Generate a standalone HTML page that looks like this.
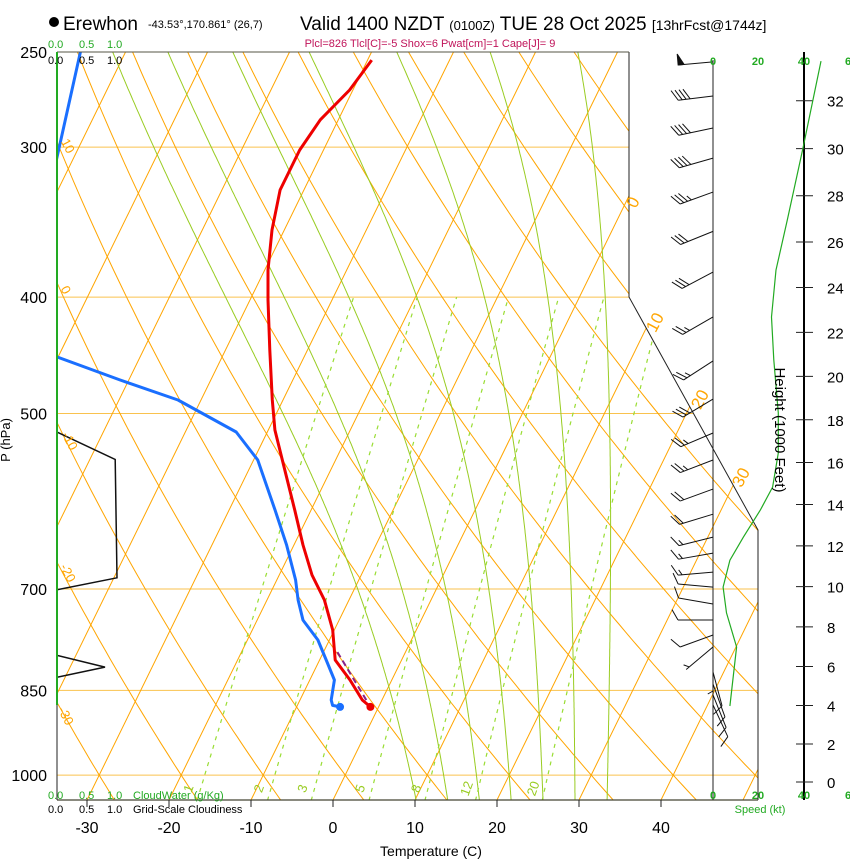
<!DOCTYPE html>
<html><head><meta charset="utf-8">
<style>
html,body{margin:0;padding:0;background:#fff;}
svg{display:block;font-family:"Liberation Sans",sans-serif;}
</style></head>
<body>
<svg id="chart" width="850" height="860" viewBox="0 0 850 860" xmlns="http://www.w3.org/2000/svg">
<defs>
<clipPath id="plotclip"><polygon points="57,52 629,52 629,297 758,530 758,800 57,800"/></clipPath>
</defs>
<g id="bg-lines" clip-path="url(#plotclip)"></g>
<g id="data-lines" clip-path="url(#plotclip)"></g>
<g id="frame">
<polyline points="629,52 629,297 758,530 758,800" fill="none" stroke="#222" stroke-width="1"/>
<line x1="57" y1="52" x2="629" y2="52" stroke="#554" stroke-width="1"/>
<line x1="57" y1="800" x2="758" y2="800" stroke="#443" stroke-width="1.2"/>
<line x1="57" y1="52" x2="57" y2="800" stroke="#222" stroke-width="1"/>
<line x1="57" y1="52" x2="57" y2="705" stroke="#22aa22" stroke-width="2"/>
<line x1="713" y1="60" x2="713" y2="800" stroke="#222" stroke-width="1"/>
<line x1="804" y1="52" x2="804" y2="800" stroke="#000" stroke-width="2"/>
</g>
<g id="labels"></g>
<g id="winds"></g>
</svg>
<script>
// ---- data ----
const tempP = [253.9,268.9,284.7,301.7,325.7,351.7,379.7,402.2,442.7,487.2,516,557.2,601.5,643.3,681.4,714.9,757.2,802,833.3,865.9,877.5];
const tempT = [-39.5,-40.4,-42.2,-42.9,-42.9,-41.5,-39.6,-37.8,-34.6,-31.3,-29.2,-25.6,-22,-18.9,-16,-13,-10.2,-8.1,-5.1,-2.4,-1.0];
const dewP = [250,307,420,448.6,468.8,487.2,518,546.5,601.5,643.3,688,714.9,743,771.9,802,833.3,865.9,875,877.5];
const dewT = [-75.5,-72,-80,-60.1,-51.1,-42.8,-33.8,-29.5,-24.4,-20.9,-17.7,-16.2,-14.4,-11.4,-9.2,-7.0,-6.2,-5.7,-4.7];
const parcelP = [790,877.5];
const parcelT = [-8.3,-1.0];
const cloudP = [518,546,685,701,795,813,829];
const cloudFrac = [0,0.97,1.0,0,0,0.8,0];
const speedP = [254.4,300.5,345.0,379.7,415.5,451.1,499.5,539.3,575.7,601.7,633.7,662.3,697.4,732.8,782.3,827.0,876.0];
const speedKt = [48,40,33,28,26,27,29,29,26.5,21,13.5,7.5,4.5,6,10.5,9,7.5];
const barbP = [254.8,272.0,289.2,306.4,327.0,352.6,381.2,415.5,452.0,486.3,519.0,546.6,577.9,606.4,633.7,653.4,677.6,697.4,720.4,742.8,764.5,782.3,802.0,820.7,839.8,857.6,874.2];
const barbDir = [265,263,258,254,250,248,242,240,237,239,247,249,250,253,256,260,265,275,280,270,250,230,180,165,160,158,155];
const barbKt = [50,40,40,40,35,30,30,25,25,30,25,25,20,20,15,15,15,10,10,10,10,5,5,10,10,10,10];
const pLabels = [250,300,400,500,700,850,1000];
const isobars = [300,400,500,700,850,1000];
const tTicks = [-30,-20,-10,0,10,20,30,40];
const hTicks = [0,2,4,6,8,10,12,14,16,18,20,22,24,26,28,30,32];
const mixW = [1,2,3,5,8,12,20];
const thetaW = [8,12,16,20,24,28,32];

// ---- axes ----
const NS="http://www.w3.org/2000/svg";
function yP(p){return 52+521.6*Math.log(p/250);}
function xTP(T,p){return 333+8.2*T+0.49*(800-yP(p));}
function pStd(hkft){const z=hkft*304.8;return 1013.25*Math.pow(1-2.25577e-5*z,5.2559);}
function yH(h){return yP(pStd(h));}
function xSpd(s){return 713+2.25*s;}
function mk(tag,attrs,parent){const e=document.createElementNS(NS,tag);for(const k in attrs)e.setAttribute(k,attrs[k]);parent.appendChild(e);return e;}
function txt(s,x,y,size,fill,parent,extra){const e=mk('text',Object.assign({x:x,y:y,'font-size':size,fill:fill},extra||{}),parent);e.textContent=s;return e;}
const bg=document.getElementById('bg-lines'), dl=document.getElementById('data-lines'), lb=document.getElementById('labels'), wg=document.getElementById('winds');

// isobars
isobars.forEach(p=>{const l=mk('line',{x1:57,x2:758,y1:yP(p),y2:yP(p),stroke:'#f8b830','stroke-width':1,opacity:0.85},bg);

});
// isotherms
for(let T=-120;T<=50;T+=10){const l=mk('line',{x1:xTP(T,1050),y1:yP(1050),x2:xTP(T,250),y2:yP(250),stroke:'#ffa500','stroke-width':1},bg);

}
// dry adiabats
for(let th=-40;th<=160;th+=10){let pts=[];for(let p=1050;p>=250;p-=10){const T=(th+273.15)*Math.pow(p/1000,0.2857)-273.15;pts.push(xTP(T,p).toFixed(1)+','+yP(p).toFixed(1));}
const l=mk('polyline',{points:pts.join(' '),fill:'none',stroke:'#ffa500','stroke-width':1},bg);

}
// moist adiabats
function es(T){return 6.112*Math.exp(17.67*T/(T+243.5));}
function dTdp(T,p){const Tk=T+273.15,r=0.622*es(T)/(p-es(T));return (287*Tk+2.5e6*r)/(p*(1004+2.5e6*2.5e6*r*0.622/(287*Tk*Tk)));}
thetaW.forEach(tw=>{let up=[],T=tw;
for(let p=1000;p>=250;p-=2){up.push(xTP(T,p).toFixed(1)+','+yP(p).toFixed(1));T-=2*dTdp(T,p);}
let dn=[];T=tw;for(let p=1000;p<=1050;p+=2){dn.push(xTP(T,p).toFixed(1)+','+yP(p).toFixed(1));T+=2*dTdp(T,p);}
const pts=dn.reverse().concat(up);
const l=mk('polyline',{points:pts.join(' '),fill:'none',stroke:'#99cc22','stroke-width':1},bg);

});
// mixing ratio lines
mixW.forEach(w=>{let pts=[];for(let p=1050;p>=400;p-=10){const e=p*w/(622+w),L=Math.log(e/6.112),Td=243.5*L/(17.67-L);pts.push(xTP(Td,p).toFixed(1)+','+yP(p).toFixed(1));}
const l=mk('polyline',{points:pts.join(' '),fill:'none',stroke:'#99dd33','stroke-width':1.2,'stroke-dasharray':'4,5'},bg);


const e=1040*w/(622+w),L=Math.log(e/6.112),Td=243.5*L/(17.67-L),x=xTP(Td,1040)-6;
const t=txt(String(w),x,790,13,'#99cc22',lb,{transform:'rotate(-70 '+x+' 790)','text-anchor':'middle'});

});

// cloudiness
{let pts=cloudP.map((p,i)=>(57+60*cloudFrac[i]).toFixed(1)+','+yP(p).toFixed(1));
const l=mk('polyline',{points:pts.join(' '),fill:'none',stroke:'#111','stroke-width':1.5},dl);

}
// dewpoint
{let pts=dewP.map((p,i)=>xTP(dewT[i],p).toFixed(1)+','+yP(p).toFixed(1));
const l=mk('polyline',{points:pts.join(' '),fill:'none',stroke:'#1a6fff','stroke-width':3,'stroke-linejoin':'round'},dl);


const n=dewP.length-1;const c=mk('circle',{cx:xTP(dewT[n],dewP[n]),cy:yP(dewP[n]),r:4,fill:'#1a6fff'},dl);

}
// temperature
{let pts=tempP.map((p,i)=>xTP(tempT[i],p).toFixed(1)+','+yP(p).toFixed(1));
const l=mk('polyline',{points:pts.join(' '),fill:'none',stroke:'#ee0000','stroke-width':3,'stroke-linejoin':'round'},dl);


const pl=mk('polyline',{points:parcelP.map((p,i)=>xTP(parcelT[i],p).toFixed(1)+','+yP(p).toFixed(1)).join(' '),fill:'none',stroke:'#882288','stroke-width':2,'stroke-dasharray':'6,4'},dl);


const n=tempP.length-1;const c=mk('circle',{cx:xTP(tempT[n],tempP[n]),cy:yP(tempP[n]),r:4,fill:'#ee0000'},dl);

}

// speed profile
{let pts=speedP.map((p,i)=>xSpd(speedKt[i]).toFixed(1)+','+yP(p).toFixed(1));
const l=mk('polyline',{points:pts.join(' '),fill:'none',stroke:'#22aa22','stroke-width':1.2},wg);

}
// barbs
barbP.forEach((p,i)=>{const y0=yP(p),x0=713,th=barbDir[i]*Math.PI/180;
const ux=Math.sin(th),uy=-Math.cos(th),L=35;const px=-uy,py=ux;
const g=mk('g',{stroke:'#111','stroke-width':1,fill:'#111'},wg);


mk('line',{x1:x0,y1:y0,x2:x0+L*ux,y2:y0+L*uy},g);
let s=barbKt[i],d=L;
const bx=0.87*px+0.5*ux,by=0.87*py+0.5*uy;
while(s>=50){const ax=x0+d*ux,ay=y0+d*uy;mk('polygon',{points:ax+','+ay+' '+(ax+11*px)+','+(ay+11*py)+' '+(ax-6*ux)+','+(ay-6*uy)},g);d-=8;s-=50;}
while(s>=10){const ax=x0+d*ux,ay=y0+d*uy;mk('line',{x1:ax,y1:ay,x2:ax+12*bx,y2:ay+12*by},g);d-=4;s-=10;}
if(s>=5){if(d===L)d-=4;const ax=x0+d*ux,ay=y0+d*uy;mk('line',{x1:ax,y1:ay,x2:ax+6*bx,y2:ay+6*by},g);}
});

// pressure labels
pLabels.forEach(p=>{const t=txt(String(p),47,yP(p)+6,16,'#000',lb,{'text-anchor':'end'});

});
// temp ticks
tTicks.forEach(T=>{const x=333+8.2*T;mk('line',{x1:x,y1:800,x2:x,y2:807,stroke:'#222'},lb);
const t=txt(String(T),x,833,16,'#000',lb,{'text-anchor':'middle'});

});
// height ticks
hTicks.forEach(h=>{const y=yH(h);mk('line',{x1:796,y1:y,x2:813,y2:y,stroke:'#222'},lb);
const t=txt(String(h),827,y+6,15,'#000',lb,{});

});
// isotherm labels
[[0,638,205],[10,660,325],[20,705,402],[30,746,480]].forEach(a=>{const t=txt(String(a[0]),a[1],a[2],17,'#ffa500',lb,{transform:'rotate(-62 '+a[1]+' '+a[2]+')','text-anchor':'middle'});

});
// adiabat labels
[[10,64,148],[0,62,292],[-10,66,443],[-20,64,575],[-30,62,718]].forEach(a=>{const t=txt(String(a[0]),a[1],a[2],13,'#ffa500',lb,{transform:'rotate(62 '+a[1]+' '+a[2]+')','text-anchor':'middle'});

});
</script>
<svg width="850" height="860" style="position:absolute;left:0;top:0;font-family:'Liberation Sans',sans-serif">
<circle cx="54" cy="22" r="5" fill="#000"/>
<text x="63" y="30" font-size="19">Erewhon</text>
<text x="148" y="28" font-size="11">-43.53°,170.861° (26,7)</text>
<text x="300" y="30" font-size="19">Valid 1400 NZDT <tspan font-size="13">(0100Z)</tspan> TUE 28 Oct 2025 <tspan font-size="14">[13hrFcst@1744z]</tspan></text>
<text x="430" y="47" font-size="11" fill="#c0145a" text-anchor="middle">Plcl=826 Tlcl[C]=-5 Shox=6 Pwat[cm]=1 Cape[J]= 9</text>
<text x="48" y="48" font-size="11" fill="#22aa22">0.0<tspan x="79">0.5</tspan><tspan x="107">1.0</tspan></text>
<text x="48" y="64" font-size="11" fill="#000">0.0<tspan x="79">0.5</tspan><tspan x="107">1.0</tspan></text>
<text x="48" y="799" font-size="11" fill="#22aa22">0.0<tspan x="79">0.5</tspan><tspan x="107">1.0</tspan><tspan x="133">CloudWater (g/Kg)</tspan></text>
<text x="48" y="813" font-size="11" fill="#000">0.0<tspan x="79">0.5</tspan><tspan x="107">1.0</tspan><tspan x="133">Grid-Scale Cloudiness</tspan></text>
<text x="10" y="440" font-size="13" transform="rotate(-90 10 440)" text-anchor="middle">P (hPa)</text>
<text x="431" y="856" font-size="14" text-anchor="middle">Temperature (C)</text>
<text x="775" y="430" font-size="15" transform="rotate(90 775 430)" text-anchor="middle">Height (1000 Feet)</text>
<g font-size="11" fill="#22aa22" font-weight="bold" text-anchor="middle">
<text x="713" y="65">0</text><text x="758" y="65">20</text><text x="804" y="65">40</text><text x="848" y="65">6</text></g>
<g font-size="11" fill="#22aa22" font-weight="bold" text-anchor="middle">
<text x="713" y="799">0</text><text x="758" y="799">20</text><text x="804" y="799">40</text><text x="848" y="799">6</text></g>
<text x="760" y="813" font-size="11" fill="#22aa22" text-anchor="middle">Speed (kt)</text>
</svg>
</body></html>
